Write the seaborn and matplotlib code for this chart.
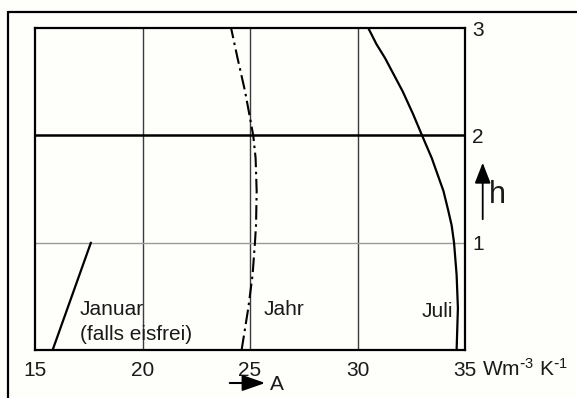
import matplotlib
matplotlib.use("Agg")
import matplotlib.pyplot as plt
from matplotlib.lines import Line2D
from matplotlib.patches import FancyArrowPatch
import seaborn as sns
import pandas as pd

# Höhenprofile der Größe A (Wm^-3 K^-1) über h
jan_A = [15.82, 17.6]
jan_h = [0.0, 1.0]

jahr_A = [24.61, 24.92, 25.12, 25.23, 25.28, 25.31, 25.26, 25.15, 24.77, 24.42, 24.12]
jahr_h = [0.0, 0.39, 0.70, 1.0, 1.16, 1.48, 1.79, 2.0, 2.41, 2.72, 3.0]

juli_A = [34.61, 34.67, 34.61, 34.49, 34.38, 34.22, 34.0, 33.45, 33.0, 32.58, 32.1, 31.28, 30.88, 30.50]
juli_h = [0.0, 0.39, 0.70, 1.0, 1.16, 1.30, 1.48, 1.79, 2.0, 2.2, 2.41, 2.72, 2.85, 3.0]

x_ticks = [15, 20, 25, 30, 35]
x_ticklabels = ["15", "20", "25", "30", "35"]
y_ticks = [1, 2, 3]
y_ticklabels = ["1", "2", "3"]
v_grid = [20, 25, 30]

sns.set_theme(style="white")
plt.rcParams["font.family"] = ["Liberation Sans", "DejaVu Sans"]
plt.rcParams["mathtext.default"] = "regular"

W, H = 577, 398
bg = "#fefefb"
ink = "#1a1a1a"
fig = plt.figure(figsize=(W / 100, H / 100), dpi=100, facecolor=bg)
ax = fig.add_axes([35 / W, 1 - 350 / H, 430 / W, 322 / H])
ax.set_facecolor(bg)

def prof(a, h, name):
    return pd.DataFrame({"A": a, "h": h, "Kurve": name})

sns.lineplot(data=prof(jan_A, jan_h, "Januar"), x="A", y="h", sort=False,
             estimator=None, color="black", lw=1.6, ax=ax)
sns.lineplot(data=prof(jahr_A, jahr_h, "Jahr"), x="A", y="h", sort=False,
             estimator=None, color="black", lw=1.5,
             linestyle=(0, (7, 2.2, 1.2, 2.2)), ax=ax)
sns.lineplot(data=prof(juli_A, juli_h, "Juli"), x="A", y="h", sort=False,
             estimator=None, color="black", lw=1.6, ax=ax)

# Gitter
for gx in v_grid:
    ax.axvline(gx, color="#3c3c3c", lw=1.0, zorder=0)
ax.axhline(2, color="black", lw=1.8, zorder=0)
ax.axhline(1, color="#9a9a9a", lw=1.0, zorder=0)

ax.set_xlim(15, 35)
ax.set_ylim(0, 3)
ax.set_xlabel("")
ax.set_ylabel("")

ax.set_xticks(x_ticks)
ax.set_xticklabels(x_ticklabels)
ax.yaxis.tick_right()
ax.set_yticks(y_ticks)
ax.set_yticklabels(y_ticklabels)
ax.tick_params(axis="x", length=0, pad=8, labelsize=15, colors=ink)
ax.tick_params(axis="y", length=0, pad=5, labelsize=15, colors=ink)
for sp in ax.spines.values():
    sp.set_visible(True)
    sp.set_color("black")
    sp.set_linewidth(1.6)

# Kurvenbeschriftungen
fs = 15
ax.text(17.09, 0.373, "Januar", fontsize=fs, va="center", ha="left", color=ink)
ax.text(17.09, 0.14, "(falls eisfrei)", fontsize=fs, va="center", ha="left", color=ink)
ax.text(25.62, 0.373, "Jahr", fontsize=fs, va="center", ha="left", color=ink)
ax.text(33.0, 0.36, "Juli", fontsize=fs, va="center", ha="left", color=ink)

# Einheit
fig.text(482 / W, 1 - 369 / H, r"Wm$^{\text{-}3}$ K$^{\text{-}1}$", fontsize=15,
         va="center", ha="left", color=ink)

# Achsenpfeile
fig.add_artist(FancyArrowPatch(
    (482.7 / W, 1 - 222 / H), (482.7 / W, 1 - 160 / H), transform=fig.transFigure,
    arrowstyle="-|>,head_length=0.9,head_width=0.35", mutation_scale=14,
    color="black", lw=1.3))
fig.text(497 / W, 1 - 195 / H, "h", fontsize=22, va="center", ha="center", color=ink)

fig.add_artist(FancyArrowPatch(
    (227 / W, 1 - 383 / H), (268 / W, 1 - 383 / H), transform=fig.transFigure,
    arrowstyle="-|>,head_length=1.0,head_width=0.35", mutation_scale=14,
    color="black", lw=1.5))
fig.text(277 / W, 1 - 384 / H, "A", fontsize=15, va="center", ha="center", color=ink)

# Rahmen
fig.add_artist(Line2D([7.5 / W, 7.5 / W], [0, 1 - 12 / H], transform=fig.transFigure,
                      color="black", lw=1.6))
fig.add_artist(Line2D([7.5 / W, 1], [1 - 12 / H, 1 - 12 / H], transform=fig.transFigure,
                      color="black", lw=1.6))

fig.savefig("out.png", dpi=100, facecolor=bg)
